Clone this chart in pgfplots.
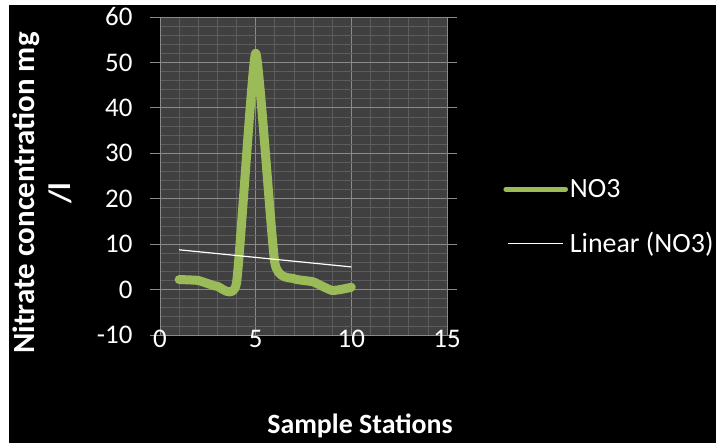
\documentclass[border=0pt]{standalone}
\usepackage{pgfplots}
\usepackage{pgfplotstable}
\pgfplotsset{compat=1.18}
\usepackage{fontspec}
\setmainfont{Carlito}

\definecolor{nogreen}{HTML}{9BBB59}
\definecolor{plotbg}{HTML}{404040}
\definecolor{gridminor}{HTML}{5C5C5C}
\definecolor{gridmajor}{HTML}{8A8A8A}

% Nitrate (NO3) concentration at each sample station, mg/l
\pgfplotstableread{
station no3
1  2.2
2  2.0
3  0.7
4  1.5
5  52
6  5.9
7  2.4
8  1.7
9  -0.2
10 0.5
}\nitrate

\begin{document}
\begin{tikzpicture}
\path[use as bounding box] (0,0) rectangle (716bp,443bp);
\fill[white] (0,0) rectangle (716bp,443bp);
\fill[black] (9bp,0) rectangle (716bp,438bp);
\begin{axis}[
  at={(160bp,108bp)}, anchor=south west,
  scale only axis, width=287bp, height=318bp,
  xmin=0, xmax=15, ymin=-10, ymax=60,
  xtick={0,5,10,15}, xticklabels={0,5,10,15},
  ytick={-10,0,10,20,30,40,50,60},
  yticklabels={-10,0,10,20,30,40,50,60},
  minor x tick num=4, minor y tick num=4,
  grid=both,
  major grid style={draw=gridmajor, line width=0.9bp},
  minor grid style={draw=gridminor, line width=0.7bp},
  axis background/.style={fill=plotbg},
  axis line style={draw=gridmajor, line width=0.9bp},
  tick align=outside,
  major tick length=10bp, minor tick length=0pt,
  ytick style={draw=gridmajor, line width=0.9bp},
  xtick style={draw=none},
  tick label style={text=white, font=\fontsize{27}{30}\selectfont},
  yticklabel style={xshift=-14bp},
  xticklabel style={yshift=18bp},
  legend style={at={(1.196,0.372)}, anchor=west, draw=none, fill=none,
    text=white, font=\fontsize{28}{32}\selectfont, row sep=29bp,
    inner sep=0pt, nodes={inner sep=2bp}},
  legend cell align=left,
]
\addplot[nogreen, line width=9bp, smooth, tension=0.28, line join=round, line cap=round,
  legend image code/.code={\draw[nogreen, line width=4.5bp] (0bp,0bp) -- (60bp,0bp);}]
  table[x=station, y=no3] {\nitrate};
\addlegendentry{NO3}
\addplot[white, line width=1.2bp,
  legend image code/.code={\draw[white, line width=1bp] (2bp,0bp) -- (57bp,0bp);}]
  table[x=station, y={create col/linear regression={y=no3}}] {\nitrate};
\addlegendentry{Linear (NO3)}
\end{axis}
\node[rotate=90, align=center, text=white, font=\bfseries\fontsize{31}{36}\selectfont]
  at (42bp,250bp) {Nitrate concentration mg\\/l};
\node[anchor=base, text=white, font=\bfseries\fontsize{28}{32}\selectfont]
  at (360bp,10bp) {Sample Stations};
\end{tikzpicture}
\end{document}
